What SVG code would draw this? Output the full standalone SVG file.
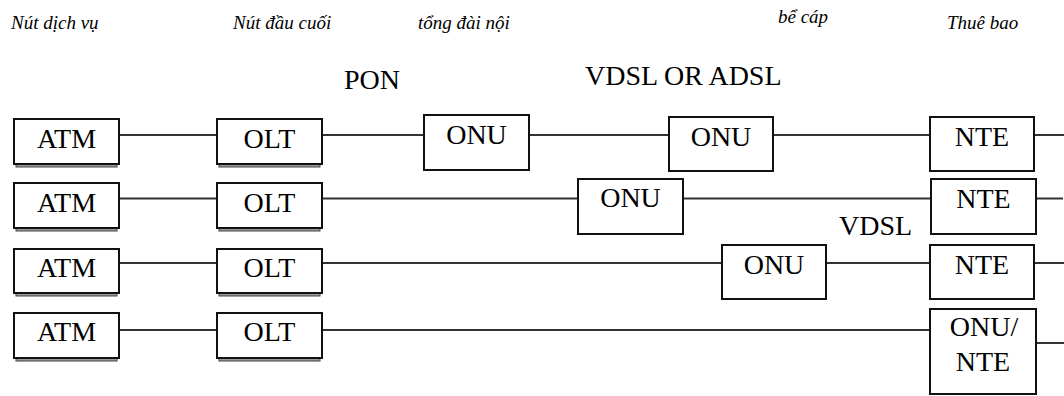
<svg xmlns="http://www.w3.org/2000/svg" width="1064" height="396" viewBox="0 0 1064 396">
  <style>
    .box { fill: #ffffff; stroke: #111111; stroke-width: 2; }
    .shadow { fill: #9a9a9a; stroke: #444444; stroke-width: 1; }
    .lbl { font-family: "Liberation Serif", "Times New Roman", serif; font-size: 28px; fill: #000000; text-anchor: middle; }
    .cap { font-family: "Liberation Serif", "Times New Roman", serif; font-size: 19px; font-style: italic; fill: #000000; }
    .band { font-family: "Liberation Serif", "Times New Roman", serif; font-size: 28px; fill: #000000; }
    .wire { stroke: #333333; stroke-width: 2; fill: none; }
  </style>

  <!-- column headings -->
  <g id="headings">
    <text class="cap" x="11" y="29">Nút dịch vụ</text>
    <text class="cap" x="233" y="29">Nút đầu cuối</text>
    <text class="cap" x="418" y="29">tổng đài nội</text>
    <text class="cap" x="778" y="23">bể cáp</text>
    <text class="cap" x="947" y="29">Thuê bao</text>
  </g>

  <!-- access technology labels -->
  <g id="tech-labels">
    <text class="band" x="344" y="89">PON</text>
    <text class="band" x="585" y="85">VDSL OR ADSL</text>
    <text class="band" x="839" y="235">VDSL</text>
  </g>

  <!-- links -->
  <g id="connectors">
    <line class="wire" x1="119" y1="135" x2="217" y2="135"/>
    <line class="wire" x1="322" y1="135" x2="424" y2="135"/>
    <line class="wire" x1="529" y1="135" x2="669" y2="135"/>
    <line class="wire" x1="773" y1="135" x2="930" y2="135"/>
    <line class="wire" x1="1034" y1="135" x2="1064" y2="135"/>

    <line class="wire" x1="119" y1="198.5" x2="217" y2="198.5"/>
    <line class="wire" x1="322" y1="198.5" x2="578" y2="198.5"/>
    <line class="wire" x1="683" y1="198.5" x2="931" y2="198.5"/>
    <line class="wire" x1="1036" y1="198.5" x2="1063" y2="198.5"/>

    <line class="wire" x1="119" y1="263" x2="217" y2="263"/>
    <line class="wire" x1="322" y1="263" x2="722" y2="263"/>
    <line class="wire" x1="826" y1="263" x2="930" y2="263"/>
    <line class="wire" x1="1034" y1="263" x2="1064" y2="263"/>

    <line class="wire" x1="119" y1="330" x2="217" y2="330"/>
    <line class="wire" x1="322" y1="330" x2="930" y2="330"/>
    <line class="wire" x1="1036" y1="343" x2="1064" y2="343"/>
  </g>

  <!-- row 1 -->
  <g id="atm-1">
    <rect class="shadow" x="16" y="122" width="101" height="45"/>
    <rect class="box" x="14" y="119" width="105" height="45"/>
    <text class="lbl" x="66.5" y="148">ATM</text>
  </g>
  <g id="olt-1">
    <rect class="shadow" x="219" y="122" width="101" height="45"/>
    <rect class="box" x="217" y="119" width="105" height="45"/>
    <text class="lbl" x="269.5" y="148">OLT</text>
  </g>
  <g id="onu-1a">
    <rect class="box" x="424" y="115" width="105" height="55"/>
    <text class="lbl" x="476.5" y="144">ONU</text>
  </g>
  <g id="onu-1b">
    <rect class="box" x="669" y="117" width="104" height="54"/>
    <text class="lbl" x="721" y="146">ONU</text>
  </g>
  <g id="nte-1">
    <rect class="box" x="930" y="117" width="104" height="54"/>
    <text class="lbl" x="982" y="146">NTE</text>
  </g>

  <!-- row 2 -->
  <g id="atm-2">
    <rect class="shadow" x="16" y="186" width="101" height="45"/>
    <rect class="box" x="14" y="183" width="105" height="45"/>
    <text class="lbl" x="66.5" y="212">ATM</text>
  </g>
  <g id="olt-2">
    <rect class="shadow" x="219" y="186" width="101" height="45"/>
    <rect class="box" x="217" y="183" width="105" height="45"/>
    <text class="lbl" x="269.5" y="212">OLT</text>
  </g>
  <g id="onu-2">
    <rect class="box" x="578" y="179" width="105" height="55"/>
    <text class="lbl" x="630.5" y="207">ONU</text>
  </g>
  <g id="nte-2">
    <rect class="box" x="931" y="179" width="105" height="55"/>
    <text class="lbl" x="983.5" y="208">NTE</text>
  </g>

  <!-- row 3 -->
  <g id="atm-3">
    <rect class="shadow" x="16" y="252" width="101" height="44"/>
    <rect class="box" x="14" y="249" width="105" height="44"/>
    <text class="lbl" x="66.5" y="277">ATM</text>
  </g>
  <g id="olt-3">
    <rect class="shadow" x="219" y="252" width="101" height="44"/>
    <rect class="box" x="217" y="249" width="105" height="44"/>
    <text class="lbl" x="269.5" y="277">OLT</text>
  </g>
  <g id="onu-3">
    <rect class="box" x="722" y="245" width="104" height="54"/>
    <text class="lbl" x="774" y="274">ONU</text>
  </g>
  <g id="nte-3">
    <rect class="box" x="930" y="245" width="104" height="54"/>
    <text class="lbl" x="982" y="274">NTE</text>
  </g>

  <!-- row 4 -->
  <g id="atm-4">
    <rect class="shadow" x="16" y="316" width="101" height="45"/>
    <rect class="box" x="14" y="313" width="105" height="45"/>
    <text class="lbl" x="66.5" y="341">ATM</text>
  </g>
  <g id="olt-4">
    <rect class="shadow" x="219" y="316" width="101" height="45"/>
    <rect class="box" x="217" y="313" width="105" height="45"/>
    <text class="lbl" x="269.5" y="341">OLT</text>
  </g>
  <g id="onu-nte-4">
    <rect class="box" x="930" y="309" width="106" height="85"/>
    <text class="lbl" x="984" y="336">ONU/</text>
    <text class="lbl" x="983" y="371">NTE</text>
  </g>
</svg>
